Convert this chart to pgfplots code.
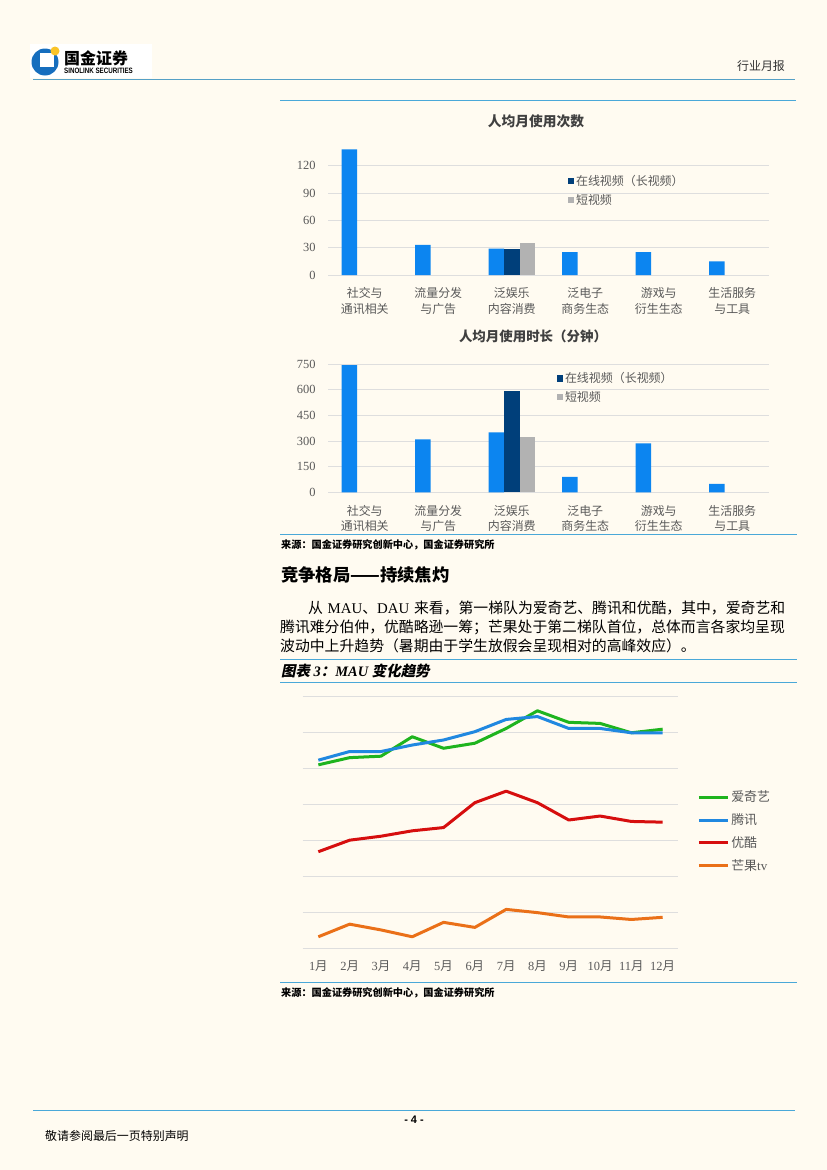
\documentclass[border=0pt]{standalone}
\usepackage{fontspec}
\setmainfont{Liberation Serif}
\newfontfamily\cjk{Noto Sans CJK SC}
\newfontfamily\cjksl{Noto Sans CJK SC}[FakeSlant=0.2]
\newfontfamily\sfb{Liberation Sans}
\usepackage{pgfplots}
\pgfplotsset{compat=1.18}

\definecolor{pagebg}{RGB}{255,251,241}
\definecolor{rule}{RGB}{74,168,216}
\definecolor{logoblue}{RGB}{22,110,190}
\definecolor{logoyellow}{RGB}{250,196,40}
\definecolor{barlight}{RGB}{12,133,240}
\definecolor{bardark}{RGB}{0,63,122}
\definecolor{bargray}{RGB}{178,178,178}
\definecolor{gridgray}{RGB}{222,222,222}
\definecolor{labelgray}{RGB}{89,89,89}
\definecolor{titlegray}{RGB}{64,64,64}
\definecolor{lgreen}{RGB}{30,180,30}
\definecolor{lblue}{RGB}{32,136,224}
\definecolor{lred}{RGB}{214,14,14}
\definecolor{lorange}{RGB}{234,112,24}

\newcommand\fs[1]{\fontsize{#1}{#1}\selectfont}

% common style of the two bar charts
\pgfplotsset{
  usebar/.style={
    scale only axis, width=441bp, anchor=south west,
    xmin=-0.5, xmax=5.5, ymin=0,
    ybar=0pt, bar width=15.5bp,
    xtick={0,...,5},
    xticklabels={{社交与\\通讯相关},{流量分发\\与广告},{泛娱乐\\内容消费},{泛电子\\商务生态},{游戏与\\衍生生态},{生活服务\\与工具}},
    ymajorgrids, grid style={draw=gridgray, line width=0.9bp},
    axis line style={draw=none}, major tick style={draw=none},
    /pgf/number format/assume math mode=true,
    yticklabel style={font=\fs{12.5}, text=labelgray, xshift=-9bp},
    xticklabel style={font=\cjk\fontsize{12}{15.5}\selectfont, text=labelgray, align=center, yshift=-5bp},
    legend style={draw=none, fill=none, font=\cjk\fs{12}, text=labelgray,
      anchor=north west, row sep=3bp, legend cell align=left},
    legend image code/.code={\fill[##1] (0bp,-3.2bp) rectangle (6.5bp,3.3bp);},
    clip=false,
  }
}

\begin{document}
\begin{tikzpicture}
\useasboundingbox (0,0) rectangle (827bp,-1170bp);
\begin{scope}[x=1bp,y=-1bp]
\fill[pagebg] (0,0) rectangle (827,1170);

% header
\fill[white] (30,44) rectangle (152,78);
\fill[logoblue] (45,62) circle (13.5);
\fill[white] (40,53) rectangle (54,67);
\fill[logoyellow] (55,51) circle (4.5);
\node[anchor=west, inner sep=0] at (64,58) {\cjk\bfseries\fs{16}国金证券};
\node[anchor=west, inner sep=0, xscale=0.8] at (64,71) {\sfb\bfseries\fs{7.8}SINOLINK SECURITIES};
\node[inner sep=0, text=black!80] at (761,66) {\cjk\fs{12}行业月报};
\draw[rule!80!gray, line width=2] (33,79.5) -- (795,79.5);
\draw[rule, line width=1.5] (280,100.5) -- (796,100.5);

% chart titles
\node[inner sep=0, text=titlegray] at (536,121) {\cjk\bfseries\fs{13.8}人均月使用次数};
\node[inner sep=0, text=titlegray] at (533,336) {\cjk\bfseries\fs{13.5}人均月使用时长（分钟）};

% source 1
\draw[rule, line width=1.5] (280,534.5) -- (797,534.5);
\node[anchor=west, inner sep=0] at (281,545) {\cjk\bfseries\fs{10.2}来源：国金证券研究创新中心，国金证券研究所};

% section heading and text
\node[anchor=west, inner sep=0] at (281,575) {\cjk\bfseries\fs{17.4}竞争格局——持续焦灼};
\node[anchor=west, inner sep=0] at (308,608) {\makebox[477bp][s]{\fs{14.9}{\cjk 从} MAU{\cjk 、}DAU {\cjk 来看，第一梯队为爱奇艺、腾讯和优酷，其中，爱奇艺和}}};
\node[anchor=west, inner sep=0] at (280,627) {\cjk\fs{14.9}腾讯难分伯仲，优酷略逊一筹；芒果处于第二梯队首位，总体而言各家均呈现};
\node[anchor=west, inner sep=0] at (280,646) {\cjk\fs{14.9}波动中上升趋势（暑期由于学生放假会呈现相对的高峰效应）。};

\draw[rule, line width=1.5] (280,659.5) -- (797,659.5);
\node[anchor=west, inner sep=0] at (281,671) {\bfseries\itshape\fs{14.5}{\cjksl 图表} 3{\cjksl ：}MAU {\cjksl 变化趋势}};
\draw[rule, line width=1.5] (280,682.5) -- (797,682.5);

% source 2
\draw[rule, line width=1.5] (280,982.5) -- (797,982.5);
\node[anchor=west, inner sep=0] at (281,993) {\cjk\bfseries\fs{10.2}来源：国金证券研究创新中心，国金证券研究所};

% footer
\draw[rule, line width=1.5] (33,1110.5) -- (795,1110.5);
\node[inner sep=0] at (414,1120) {\sfb\bfseries\fs{11}- 4 -};
\node[anchor=west, inner sep=0] at (45,1136) {\cjk\fs{12}敬请参阅最后一页特别声明};
\end{scope}

% chart 1
\begin{axis}[usebar, at={(328bp,-275bp)}, height=127.5bp, ymax=140,
  ytick={0,30,60,90,120},
  legend style={at={(0.536,0.814)}}]
\addplot[fill=barlight, draw=none, bar shift=-15.5bp, forget plot] coordinates {(0,138) (1,33) (2,29) (3,25) (4,25) (5,15)};
\addplot[fill=bardark, draw=none, bar shift=0bp] coordinates {(2,29)};
\addplot[fill=bargray, draw=none, bar shift=15.5bp] coordinates {(2,35.5)};
\legend{在线视频（长视频）,短视频}
\end{axis}

% chart 2
\begin{axis}[usebar, at={(328bp,-492.3bp)}, height=129.7bp, ymax=760,
  ytick={0,150,300,450,600,750},
  legend style={at={(0.511,0.955)}}]
\addplot[fill=barlight, draw=none, bar shift=-15.5bp, forget plot] coordinates {(0,745) (1,310) (2,351) (3,90) (4,287) (5,49)};
\addplot[fill=bardark, draw=none, bar shift=0bp] coordinates {(2,595)};
\addplot[fill=bargray, draw=none, bar shift=15.5bp] coordinates {(2,322)};
\legend{在线视频（长视频）,短视频}
\end{axis}

% chart 3
\begin{axis}[at={(302.7bp,-948.3bp)}, anchor=south west, scale only axis,
  width=375.6bp, height=252.3bp, xmin=0.5, xmax=12.5, ymin=0, ymax=7,
  xtick={1,...,12},
  xticklabels={1{\cjk 月},2{\cjk 月},3{\cjk 月},4{\cjk 月},5{\cjk 月},6{\cjk 月},7{\cjk 月},8{\cjk 月},9{\cjk 月},10{\cjk 月},11{\cjk 月},12{\cjk 月}},
  ytick={0,...,7}, yticklabels={},
  ymajorgrids, grid style={draw=gridgray, line width=0.9bp},
  axis line style={draw=none}, major tick style={draw=none},
  xticklabel style={font=\fs{12.5}, text=labelgray, yshift=-9bp},
  legend style={draw=none, fill=none, font=\fs{13}, text=labelgray,
    at={(1.042,0.64)}, anchor=north west, row sep=6.5bp, legend cell align=left},
  legend image code/.code={\draw[#1, line width=3bp] (0bp,0bp) -- (29bp,0bp);},
  every axis plot/.append style={line width=3bp, line join=round},
  clip=false]
\addplot[lgreen] coordinates {(1,5.09) (2,5.29) (3,5.33) (4,5.87) (5,5.55) (6,5.69) (7,6.10) (8,6.59) (9,6.27) (10,6.24) (11,5.98) (12,6.08)};
\addplot[lblue] coordinates {(1,5.22) (2,5.46) (3,5.46) (4,5.64) (5,5.78) (6,6.01) (7,6.35) (8,6.43) (9,6.10) (10,6.10) (11,5.98) (12,5.98)};
\addplot[lred] coordinates {(1,2.68) (2,3.00) (3,3.11) (4,3.26) (5,3.35) (6,4.04) (7,4.36) (8,4.04) (9,3.56) (10,3.67) (11,3.52) (12,3.50)};
\addplot[lorange] coordinates {(1,0.32) (2,0.67) (3,0.51) (4,0.32) (5,0.72) (6,0.58) (7,1.08) (8,0.99) (9,0.87) (10,0.87) (11,0.80) (12,0.86)};
\legend{{\cjk 爱奇艺},{\cjk 腾讯},{\cjk 优酷},{\cjk 芒果}tv}
\end{axis}
\end{tikzpicture}
\end{document}
